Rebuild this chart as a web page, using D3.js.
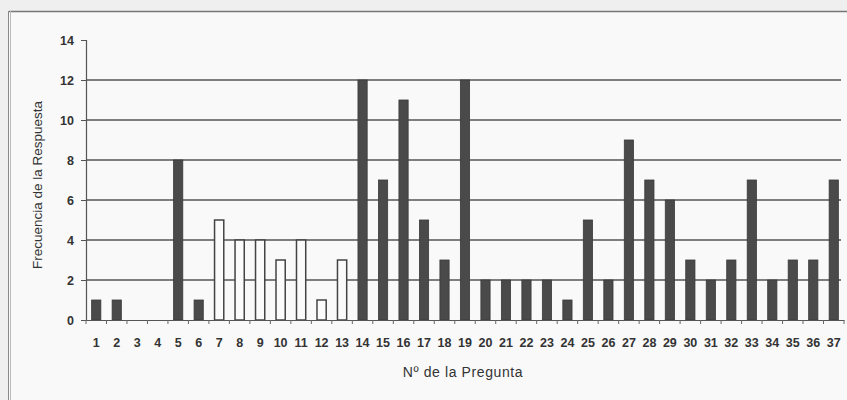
<!DOCTYPE html>
<html>
<head>
<meta charset="utf-8">
<script src="https://cdn.jsdelivr.net/npm/d3@7/dist/d3.min.js"></script>
<style>
  html, body { margin: 0; padding: 0; background: #f1f1f1; }
  svg { display: block; }
  text { font-family: "Liberation Sans", Arial, sans-serif; }
</style>
</head>
<body>
<svg id="chart" width="847" height="400"></svg>
<script>
const questions = d3.range(1, 38).map(String);
const frequencies = [1, 1, 0, 0, 8, 1, 5, 4, 4, 3, 4, 1, 3, 12, 7, 11, 5, 3, 12, 2, 2, 2, 2, 1, 5, 2, 9, 7, 6, 3, 2, 3, 7, 2, 3, 3, 7];
const hollowQuestions = ["7", "8", "9", "10", "11", "12", "13"];
const yTicks = [0, 2, 4, 6, 8, 10, 12, 14];
const yTitle = "Frecuencia de la Respuesta";
const xTitle = "Nº de la Pregunta";

const svg = d3.select("#chart");
const W = 847, H = 400;

// frame
svg.append("rect").attr("x", 0).attr("y", 0).attr("width", W).attr("height", H).attr("fill", "#efefef");
svg.append("rect").attr("x", 9).attr("y", 11).attr("width", W - 9).attr("height", H - 11)
  .attr("fill", "#f9f9f9").attr("stroke", "none");
svg.append("line").attr("x1", 9).attr("x2", W).attr("y1", 11.5).attr("y2", 11.5).attr("stroke", "#777").attr("stroke-width", 1.5);
svg.append("line").attr("x1", 8.5).attr("x2", 8.5).attr("y1", 11).attr("y2", H).attr("stroke", "#888").attr("stroke-width", 1);
svg.append("line").attr("x1", 10.5).attr("x2", 10.5).attr("y1", 11).attr("y2", H).attr("stroke", "#bbb").attr("stroke-width", 1);

const x = d3.scaleBand().domain(questions).range([86, 844]).paddingInner(0.55).paddingOuter(0.275);
const y = d3.scaleLinear().domain([0, 14]).range([320, 40]);

// gridlines
svg.append("g").selectAll("line").data(yTicks.filter(d => d > 0 && d < 14)).join("line")
  .attr("x1", 86).attr("x2", 841)
  .attr("y1", d => y(d)).attr("y2", d => y(d))
  .attr("stroke", "#555").attr("stroke-width", 1.4);

// bars
const data = questions.map((q, i) => ({ q, v: frequencies[i] }));
svg.append("g").selectAll("rect").data(data.filter(d => d.v > 0)).join("rect")
  .attr("x", d => x(d.q)).attr("width", x.bandwidth())
  .attr("y", d => y(d.v)).attr("height", d => y(0) - y(d.v))
  .attr("fill", d => hollowQuestions.includes(d.q) ? "#fbfbfb" : "#4a4a4a")
  .attr("stroke", d => hollowQuestions.includes(d.q) ? "#444" : "#3a3a3a")
  .attr("stroke-width", d => hollowQuestions.includes(d.q) ? 1.5 : 0.8);

// y axis
const yAxis = svg.append("g").attr("transform", "translate(86,0)")
  .call(d3.axisLeft(y).tickValues(yTicks).tickSize(5).tickPadding(7).tickFormat(d3.format("d")));
yAxis.select(".domain").attr("stroke", "#555").attr("stroke-width", 1.2);
yAxis.selectAll(".tick line").attr("stroke", "#555");
yAxis.selectAll(".tick text").attr("font-size", 12.5).attr("font-weight", "bold").attr("fill", "#333")
  .attr("font-family", "Liberation Sans, Arial, sans-serif");

// x axis
const xAxis = svg.append("g").attr("transform", "translate(0,320)")
  .call(d3.axisBottom(x).tickSize(0).tickPadding(18));
xAxis.select(".domain").attr("stroke", "#555").attr("stroke-width", 1.2);
xAxis.selectAll(".tick text").attr("font-size", 12.5).attr("font-weight", "bold").attr("fill", "#333")
  .attr("font-family", "Liberation Sans, Arial, sans-serif");
// boundary ticks
const step = x.step();
svg.append("g").selectAll("line").data(d3.range(0, 38)).join("line")
  .attr("x1", i => 86 + i * step).attr("x2", i => 86 + i * step)
  .attr("y1", 320).attr("y2", 324)
  .attr("stroke", "#666").attr("stroke-width", 1);

// titles
svg.append("text").attr("transform", "translate(42,185) rotate(-90)")
  .attr("text-anchor", "middle").attr("font-size", 13.5).attr("fill", "#333").text(yTitle);
svg.append("text").attr("x", 463).attr("y", 377)
  .attr("text-anchor", "middle").attr("font-size", 14).attr("letter-spacing", 0.6).attr("fill", "#333").text(xTitle);
</script>
</body>
</html>
